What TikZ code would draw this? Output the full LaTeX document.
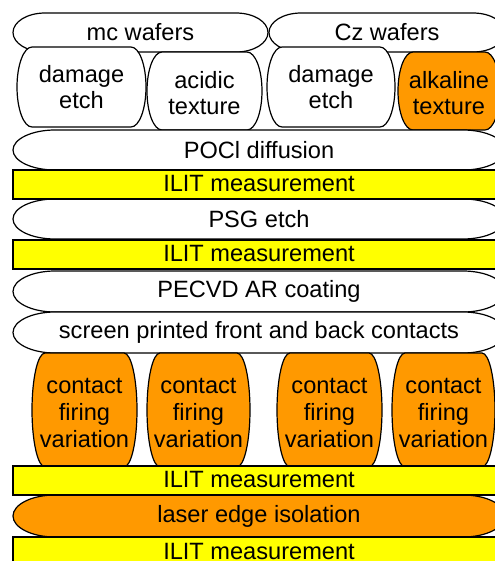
\documentclass[tikz,border=0pt]{standalone}
\usepackage{fontspec}
\setmainfont{Liberation Sans}
\definecolor{firingorange}{RGB}{255,153,0}
\definecolor{ilityellow}{RGB}{255,255,0}
\tikzset{
  shapeline/.style={draw=black, line width=0.9pt},
  steptext/.style={font=\fontsize{17.7}{19.9}\selectfont, align=center, inner sep=0pt},
  ilitbar/.style={shapeline, fill=ilityellow}
}

\begin{document}
\begin{tikzpicture}[x=0.75pt, y=-0.75pt]
\useasboundingbox (0,0) rectangle (494,561);
% process steps, top to bottom, so lower shapes lie over upper ones
\foreach \xa/\ya/\xb/\yb/\r/\fc/\dy/\txt [count=\i] in {
  13/13/268/52/32/white/0/{mc wafers},
  269/13/505/52/32/white/0/{Cz wafers},
  17/47/146/127/15/white/0/{damage\\etch},
  147/52/262/130/15/white/2/{acidic\\texture},
  267/47/395/127/15/white/0/{damage\\etch},
  398/52/500/130/15/firingorange/2/{alkaline\\texture},
  13/130/505/170/42/white/0/{POCl diffusion},
  13/199/505/239/42/white/0/{PSG etch},
  13/271/505/312/42/white/0/{PECVD AR coating},
  13/312/505/353/42/white/0/{screen printed front and back contacts},
  32/353/137/467/13/firingorange/3/{contact\\firing\\variation},
  147/353/250/467/13/firingorange/3/{contact\\firing\\variation},
  277/353/382/467/13/firingorange/3/{contact\\firing\\variation},
  392/353/495/467/13/firingorange/3/{contact\\firing\\variation},
  13/495/505/537/42/firingorange/0/{laser edge isolation}} {
 \draw[shapeline, fill=\fc] ({\xa+\r},\ya) -- ({\xb-\r},\ya)
   .. controls ({\xb-0.448*\r},\ya) and (\xb,{\ya+0.224*(\yb-\ya)}) .. (\xb,{(\ya+\yb)/2})
   .. controls (\xb,{\yb-0.224*(\yb-\ya)}) and ({\xb-0.448*\r},\yb) .. ({\xb-\r},\yb)
   -- ({\xa+\r},\yb)
   .. controls ({\xa+0.448*\r},\yb) and (\xa,{\yb-0.224*(\yb-\ya)}) .. (\xa,{(\ya+\yb)/2})
   .. controls (\xa,{\ya+0.224*(\yb-\ya)}) and ({\xa+0.448*\r},\ya) .. cycle;
 \node[steptext] (step\i) at ({(\xa+\xb)/2},{(\ya+\yb)/2+\dy}) {\txt};
}
% ILIT measurements
\foreach \ya/\yb [count=\i] in {170/199, 240/269, 466/495, 537/568} {
 \draw[ilitbar] (13,\ya) rectangle (505,\yb);
 \node[steptext] (ilit\i) at (259,{(\ya+\yb)/2-1}) {ILIT measurement};
}
\end{tikzpicture}
\end{document}
